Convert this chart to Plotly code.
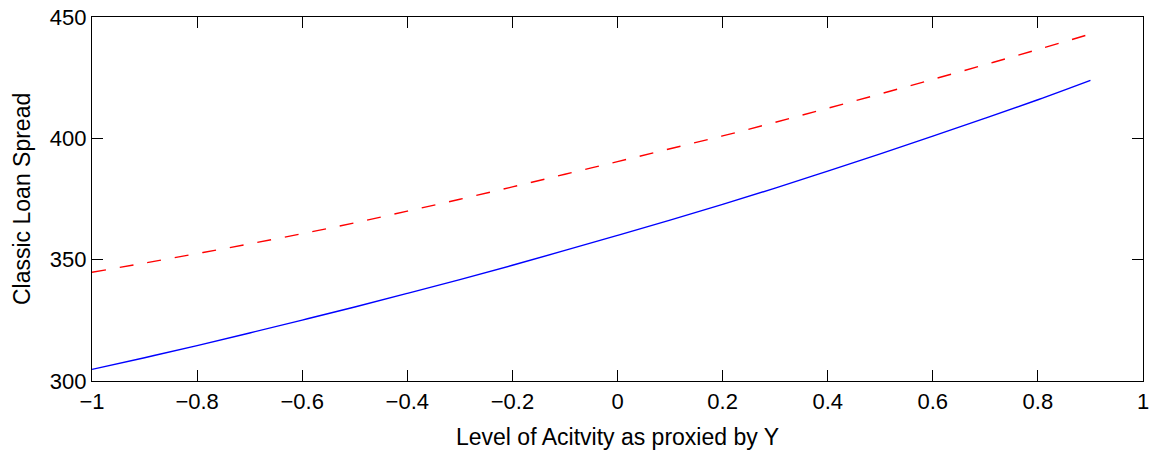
import plotly.graph_objects as go

x_vals = [-1.0, -0.9, -0.8, -0.7, -0.6, -0.5, -0.4, -0.3, -0.2, -0.1,
          0.0, 0.1, 0.2, 0.3, 0.4, 0.5, 0.6, 0.7, 0.8, 0.9]
blue_solid = [304.8, 309.6, 314.6, 319.8, 325.1, 330.5, 336.1, 341.8, 347.7, 353.8,
              360.0, 366.3, 372.8, 379.5, 386.5, 393.6, 400.9, 408.3, 415.9, 423.9]
red_dashed = [344.8, 348.6, 352.5, 356.5, 360.7, 365.2, 370.0, 374.9, 380.0, 385.2,
              390.4, 395.7, 401.0, 406.6, 412.4, 418.3, 424.3, 430.4, 436.6, 443.0]

x_ticks = [-1, -0.8, -0.6, -0.4, -0.2, 0, 0.2, 0.4, 0.6, 0.8, 1]
x_tick_text = ["\u22121", "\u22120.8", "\u22120.6", "\u22120.4", "\u22120.2", "0",
               "0.2", "0.4", "0.6", "0.8", "1"]
y_ticks = [300, 350, 400, 450]

fig = go.Figure()
fig.add_trace(go.Scatter(x=x_vals, y=blue_solid, mode="lines",
                         line=dict(color="#0000ff", width=1.4), line_shape="spline",
                         showlegend=False))
fig.add_trace(go.Scatter(x=x_vals, y=red_dashed, mode="lines",
                         line=dict(color="#ff0000", width=1.4, dash="14px,14px"),
                         line_shape="spline", showlegend=False))

font_family = "Liberation Sans, Arial, sans-serif"
fig.update_layout(
    width=1160, height=452,
    margin=dict(l=92, r=16.5, t=17, b=71),
    paper_bgcolor="white", plot_bgcolor="white",
    font=dict(family=font_family, size=22, color="black"),
    xaxis=dict(range=[-1, 1], tickvals=x_ticks, ticktext=x_tick_text,
               showgrid=False, zeroline=False, showline=True, linecolor="black",
               linewidth=1.3, mirror="ticks", ticks="inside", ticklen=11,
               tickcolor="black", tickwidth=1, automargin=False,
               ticklabeloverflow="allow"),
    yaxis=dict(range=[300, 450], tickvals=y_ticks,
               showgrid=False, zeroline=False, showline=True, linecolor="black",
               linewidth=1.3, mirror="ticks", ticks="inside", ticklen=11,
               tickcolor="black", tickwidth=1, automargin=False,
               ticklabeloverflow="allow"),
    annotations=[
        dict(text="Level of Acitvity as proxied by Y", xref="paper", yref="paper",
             x=0.5, y=-0.1538, xanchor="center", yanchor="middle", showarrow=False,
             font=dict(size=23)),
        dict(text="Classic Loan Spread", xref="paper", yref="paper",
             x=-0.0666, y=0.5, xanchor="center", yanchor="middle", showarrow=False,
             textangle=-90, font=dict(size=23)),
    ],
)

fig.write_html("out.html",
               config={"displayModeBar": False},
               post_script="document.body.style.margin='0';document.body.style.overflow='hidden';")
